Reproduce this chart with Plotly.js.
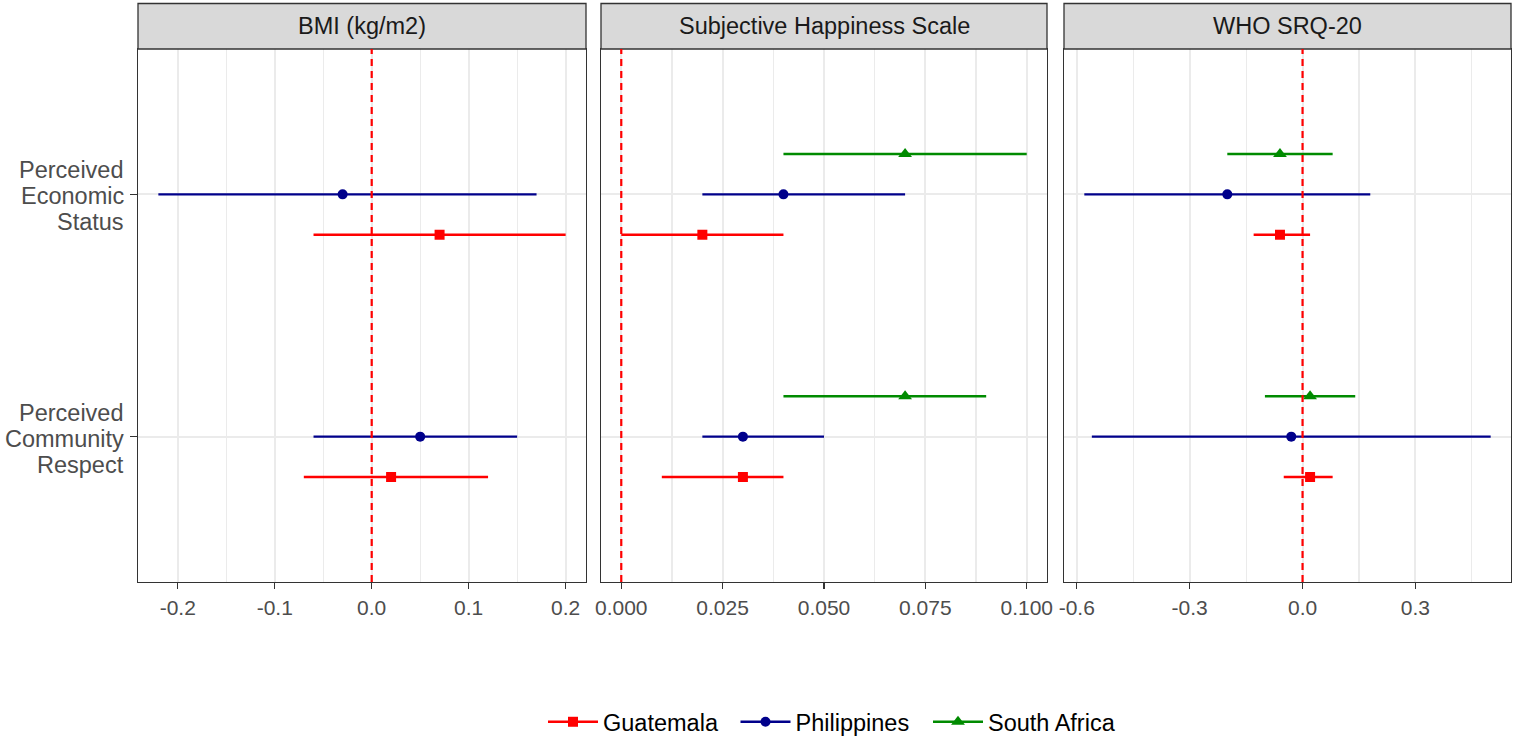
<!DOCTYPE html>
<html>
<head>
<meta charset="utf-8">
<script src="https://cdn.plot.ly/plotly-3.0.1.min.js"></script>
<style>
html,body{margin:0;padding:0;background:#ffffff;}
#chart{width:1513px;height:738px;}
</style>
</head>
<body>
<div id="chart"></div>
<script>
// ---------------- DATA ----------------
const outcomes = ["BMI (kg/m2)", "Subjective Happiness Scale", "WHO SRQ-20"];
const categories = ["Perceived\nEconomic\nStatus", "Perceived\nCommunity\nRespect"]; // top to bottom
const countries = ["Guatemala", "Philippines", "South Africa"];

// rows = outcomes (BMI, SHS, SRQ-20); columns = categories (Economic Status, Community Respect)
const guatemalaEst  = [[0.07, 0.02], [0.02, 0.03], [-0.06, 0.02]];
const guatemalaLow  = [[-0.06, -0.07], [0.00, 0.01], [-0.13, -0.05]];
const guatemalaHigh = [[0.20, 0.12], [0.04, 0.04], [0.02, 0.08]];

const philippinesEst  = [[-0.03, 0.05], [0.04, 0.03], [-0.20, -0.03]];
const philippinesLow  = [[-0.22, -0.06], [0.02, 0.02], [-0.58, -0.56]];
const philippinesHigh = [[0.17, 0.15], [0.07, 0.05], [0.18, 0.50]];

const southAfricaEst  = [[null, null], [0.07, 0.07], [-0.06, 0.02]];
const southAfricaLow  = [[null, null], [0.04, 0.04], [-0.20, -0.10]];
const southAfricaHigh = [[null, null], [0.10, 0.09], [0.08, 0.14]];

// tick values and labels per panel
const bmiTickVals = [-0.2, -0.1, 0.0, 0.1, 0.2];
const bmiTickText = ["-0.2", "-0.1", "0.0", "0.1", "0.2"];
const shsTickVals = [0.000, 0.025, 0.050, 0.075, 0.100];
const shsTickText = ["0.000", "0.025", "0.050", "0.075", "0.100"];
const srqTickVals = [-0.6, -0.3, 0.0, 0.3];
const srqTickText = ["-0.6", "-0.3", "0.0", "0.3"];

// ---------------- STYLE ----------------
const FONT = "Liberation Sans, Arial, Helvetica, sans-serif";
const colors = ["#FF0000", "#00008B", "#008B00"];
const symbols = ["square", "circle", "triangle-up"];
const markerSizes = [10, 10, 12];
const minorSteps = [0.05, 0.0125, 0.15];

const estAll  = [guatemalaEst, philippinesEst, southAfricaEst];
const lowAll  = [guatemalaLow, philippinesLow, southAfricaLow];
const highAll = [guatemalaHigh, philippinesHigh, southAfricaHigh];
const tickVals = [bmiTickVals, shsTickVals, srqTickVals];
const tickText = [bmiTickText, shsTickText, srqTickText];

const W = 1513, H = 738;
const margin = {l: 138, r: 2, t: 49, b: 156};
const plotW = W - margin.l - margin.r;
const plotH = H - margin.t - margin.b;
const panelPx = [[138, 586], [601, 1047], [1064, 1511]];
const stripH = 45.5;

const nCat = categories.length;
const catPos = categories.map((c, j) => nCat - j);
const nC = countries.length;
const dodge = 0.5;
const offsets = countries.map((c, k) => (k - (nC - 1) / 2) * dodge / nC);

const traces = [];
const layout = {
  width: W, height: H,
  margin: margin,
  paper_bgcolor: "#ffffff",
  plot_bgcolor: "#ffffff",
  font: {family: FONT, color: "#000000"},
  showlegend: true,
  legend: {
    orientation: "h",
    xref: "container", yref: "container",
    x: 543 / W, xanchor: "left",
    y: (H - 722) / H, yanchor: "middle",
    font: {family: FONT, size: 23.5, color: "#000000"},
    itemwidth: 50,
    entrywidth: 127.5,
    bgcolor: "rgba(0,0,0,0)",
    traceorder: "normal"
  },
  shapes: [],
  annotations: []
};

outcomes.forEach((name, i) => {
  const sfx = i === 0 ? "" : String(i + 1);
  const xName = "x" + sfx, yName = "y" + sfx;

  // ggplot-like expansion of 5%
  let lo = Infinity, hi = -Infinity;
  lowAll.forEach(a => a[i].forEach(v => { if (v !== null) lo = Math.min(lo, v); }));
  highAll.forEach(a => a[i].forEach(v => { if (v !== null) hi = Math.max(hi, v); }));
  lo = Math.min(lo, 0); hi = Math.max(hi, 0);
  const pad = (hi - lo) * 0.05;

  const axisBase = {
    showline: true, mirror: true, linecolor: "#333333", linewidth: 1.3,
    zeroline: false, fixedrange: true,
    gridcolor: "#EBEBEB", gridwidth: 2
  };

  layout["xaxis" + sfx] = Object.assign({}, axisBase, {
    domain: [(panelPx[i][0] - margin.l) / plotW, (panelPx[i][1] - margin.l) / plotW],
    anchor: yName,
    range: [lo - pad, hi + pad],
    tickmode: "array", tickvals: tickVals[i], ticktext: tickText[i],
    ticks: "outside", ticklen: 6, tickwidth: 1.3, tickcolor: "#333333",
    tickfont: {family: FONT, size: 21, color: "#4D4D4D"},
    minor: {tick0: 0, dtick: minorSteps[i], showgrid: true, gridcolor: "#EBEBEB", gridwidth: 1.1, ticks: ""}
  });
  layout["yaxis" + sfx] = Object.assign({}, axisBase, {
    domain: [0, 1],
    anchor: xName,
    range: [1 - 0.6, nCat + 0.6],
    tickmode: "array", tickvals: catPos, ticktext: categories.map(() => ""),
    showticklabels: false,
    ticks: i === 0 ? "outside" : "", ticklen: 7, tickwidth: 1.3, tickcolor: "#333333"
  });

  // strip
  layout.shapes.push({
    type: "rect", xref: xName + " domain", yref: "paper",
    x0: 0, x1: 1, y0: 1, y1: 1 + stripH / plotH,
    fillcolor: "#D9D9D9", line: {color: "#333333", width: 1.3}, layer: "above"
  });
  layout.annotations.push({
    text: name, xref: xName + " domain", yref: "paper",
    x: 0.5, y: 1 + (stripH / 2) / plotH, xanchor: "center", yanchor: "middle",
    showarrow: false, font: {family: FONT, size: 23.5, color: "#1A1A1A"}
  });

  // reference line at 0
  layout.shapes.push({
    type: "line", xref: xName, yref: yName + " domain",
    x0: 0, x1: 0, y0: 0, y1: 1,
    line: {color: "#FF0000", width: 2.2, dash: "7px,5px"}, layer: "above"
  });

  countries.forEach((cty, k) => {
    const est = estAll[k][i], low = lowAll[k][i], high = highAll[k][i];
    if (est.every(v => v === null)) return;
    traces.push({
      type: "scatter", mode: "markers",
      name: cty, showlegend: false,
      xaxis: xName, yaxis: yName,
      x: est,
      y: catPos.map(p => p + offsets[k]),
      error_x: {
        type: "data", symmetric: false,
        array: est.map((v, j) => high[j] - v),
        arrayminus: est.map((v, j) => v - low[j]),
        width: 0, thickness: 2.4, color: colors[k]
      },
      marker: {symbol: symbols[k], size: markerSizes[k], color: colors[k], line: {width: 0}},
      hoverinfo: "skip"
    });
  });
});

// legend entries (line + marker like ggplot keys)
countries.forEach((cty, k) => {
  traces.push({
    type: "scatter", mode: "lines+markers", name: cty,
    x: [null], y: [null], xaxis: "x", yaxis: "y",
    line: {color: colors[k], width: 2.4},
    marker: {symbol: symbols[k], size: markerSizes[k], color: colors[k]},
    showlegend: true, hoverinfo: "skip"
  });
});

// category labels (y axis text, one annotation per line)
const lineGap = 26;
categories.forEach((lab, j) => {
  const lines = lab.split("\n");
  lines.forEach((ln, m) => {
    layout.annotations.push({
      text: ln, xref: "paper", yref: "y", x: 0, y: catPos[j],
      xanchor: "right", yanchor: "middle", xshift: -12,
      yshift: ((lines.length - 1) / 2 - m) * lineGap - 2,
      showarrow: false, font: {family: FONT, size: 23.5, color: "#4D4D4D"}
    });
  });
});

Plotly.newPlot("chart", traces, layout, {staticPlot: true, displayModeBar: false});
</script>
</body>
</html>
